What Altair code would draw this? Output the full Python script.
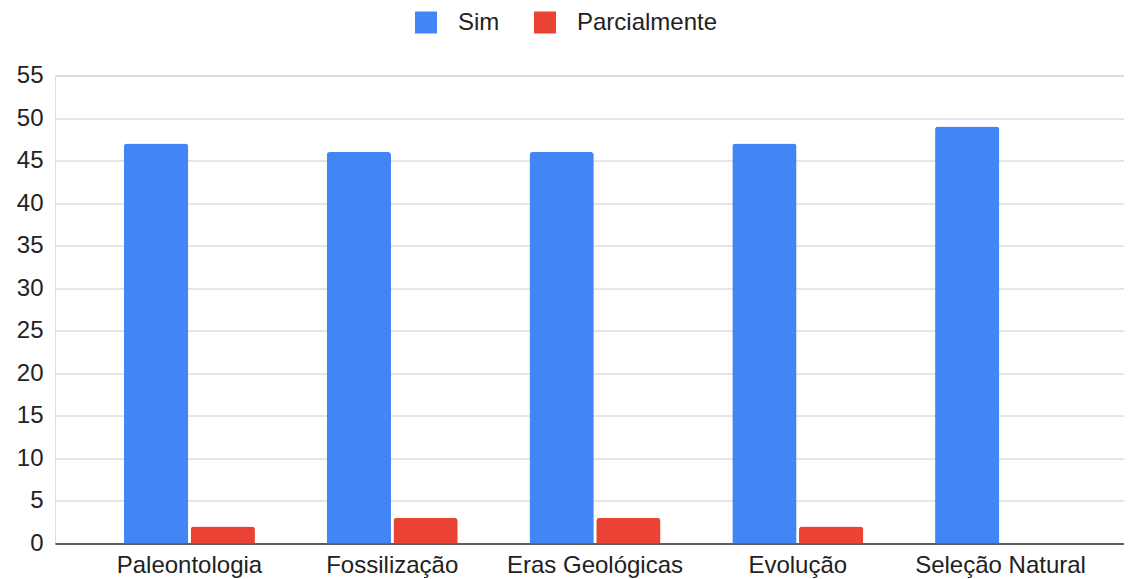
import altair as alt
import pandas as pd

categories = ["Paleontologia", "Fossilização", "Eras Geológicas", "Evolução", "Seleção Natural"]
series_names = ["Sim", "Parcialmente"]
sim_values = [47, 46, 46, 47, 49]
parcial_values = [2, 3, 3, 2, 0]
y_ticks = [0, 5, 10, 15, 20, 25, 30, 35, 40, 45, 50, 55]
colors = ["#4285F4", "#EA4335"]

rows = []
for c, s, p in zip(categories, sim_values, parcial_values):
    rows.append({"category": c, "series": "Sim", "value": s})
    rows.append({"category": c, "series": "Parcialmente", "value": p})
df = pd.DataFrame(rows)

FONT = "Liberation Sans, Arial, sans-serif"

chart = alt.Chart(df).mark_bar(cornerRadiusTopLeft=3, cornerRadiusTopRight=3).encode(
    x=alt.X(
        "category:N",
        sort=categories,
        scale=alt.Scale(paddingInner=0.354, paddingOuter=0.34, range=[0, 1080]),
        axis=alt.Axis(
            title=None, labelAngle=0, ticks=False, labelPadding=10,
            labelFontSize=24, labelColor="#222222", labelFont=FONT,
            domainColor="#333333", domainWidth=1.5, grid=False,
        ),
    ),
    xOffset=alt.XOffset(
        "series:N", sort=series_names,
        scale=alt.Scale(paddingInner=0.037, paddingOuter=0),
    ),
    y=alt.Y(
        "value:Q",
        scale=alt.Scale(domain=[0, 55], nice=False, zero=True),
        axis=alt.Axis(
            title=None, values=y_ticks, ticks=False, domain=False,
            gridColor="#cccccc", gridWidth=1, labelPadding=12,
            labelFontSize=24, labelColor="#222222", labelFont=FONT,
        ),
    ),
    color=alt.Color(
        "series:N",
        sort=series_names,
        scale=alt.Scale(domain=series_names, range=colors),
        legend=alt.Legend(
            title=None, orient="none", legendX=359, legendY=-65,
            direction="horizontal", symbolType="square", symbolSize=484,
            symbolStrokeWidth=0, labelFontSize=24, labelFont=FONT,
            labelColor="#222222", labelOffset=20, columnPadding=33, padding=0,
        ),
    ),
).properties(
    width=1069,
    height=468,
    padding={"left": 47, "top": 67.5, "right": 0, "bottom": 35.5},
    autosize="none",
).configure_view(stroke=None).configure(font=FONT)

chart.save("out.html", embed_options={"renderer": "svg", "actions": False})
